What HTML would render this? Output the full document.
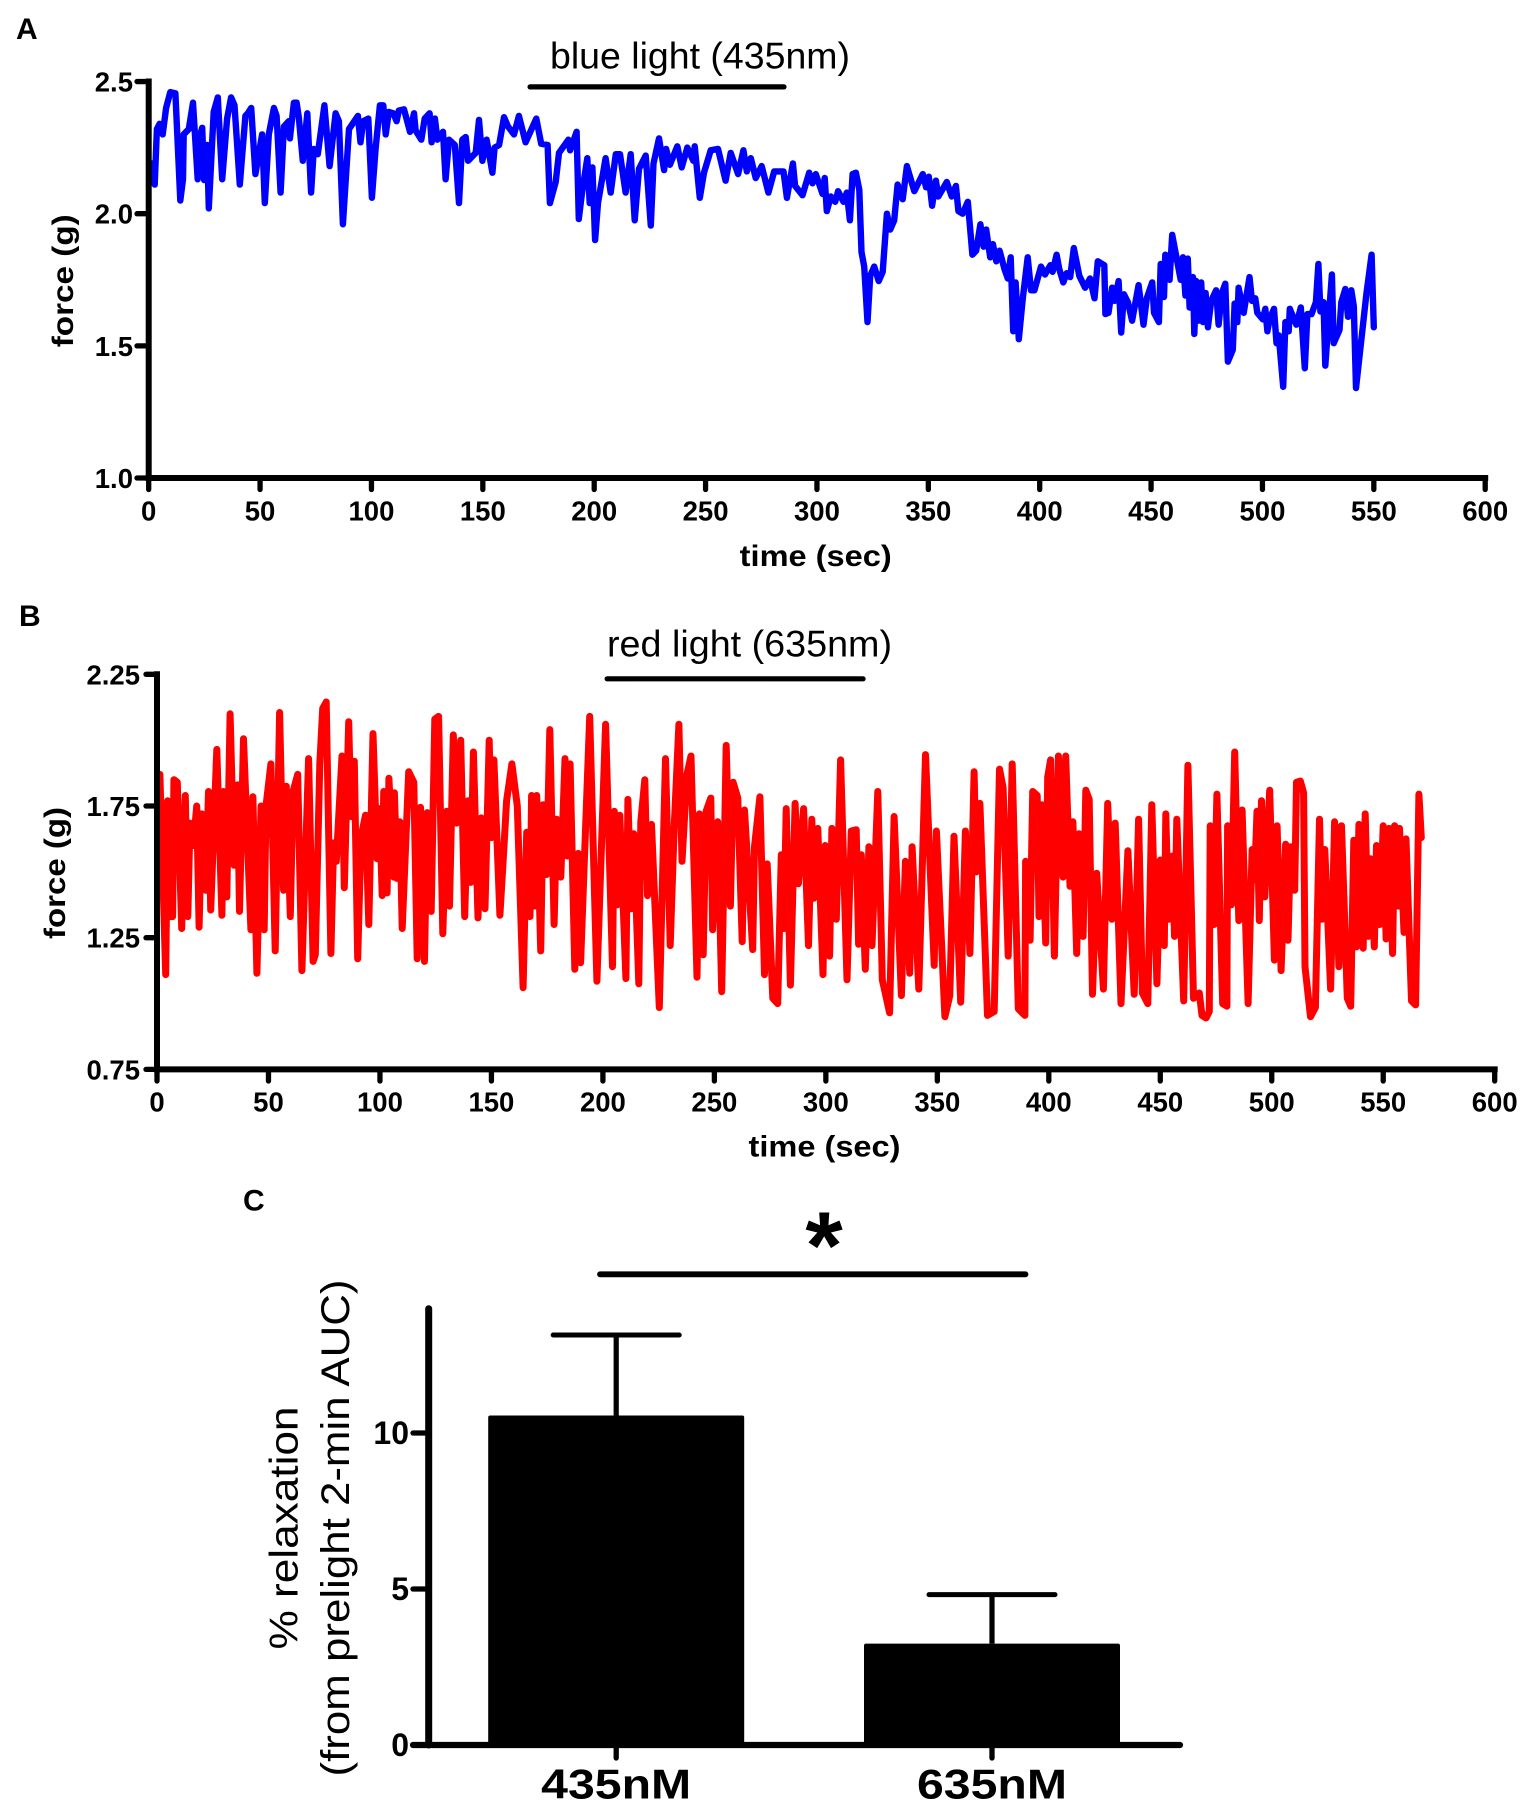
<!DOCTYPE html>
<html lang="en">
<head>
<meta charset="utf-8">
<title>Force traces under blue and red light</title>
<style>
html,body{margin:0;padding:0;background:#fff;}
svg{display:block;}
text{font-family:"Liberation Sans",Arial,sans-serif;fill:#000;}
.tick{font-weight:bold;font-size:27.5px;}
.axt{font-weight:bold;font-size:30px;}
.pl{font-weight:bold;font-size:30px;}
.reg{font-size:37px;}
</style>
</head>
<body>
<svg id="fig" xmlns="http://www.w3.org/2000/svg" width="1525" height="1804" viewBox="0 0 1525 1804">
<rect x="0" y="0" width="1525" height="1804" fill="#fff"/>

<g id="panelA">
<text class="pl" x="16" y="39">A</text>
<text class="reg" x="550" y="68.4" textLength="300" lengthAdjust="spacingAndGlyphs">blue light (435nm)</text>
<text class="axt" x="815.7" y="566" text-anchor="middle" textLength="152" lengthAdjust="spacingAndGlyphs">time (sec)</text>
<text class="axt" transform="translate(73 280.8) rotate(-90)" text-anchor="middle" textLength="133" lengthAdjust="spacingAndGlyphs">force (g)</text>
</g>

<g id="panelB">
<text class="pl" x="19" y="626">B</text>
<text class="reg" x="607" y="656.6" textLength="285" lengthAdjust="spacingAndGlyphs">red light (635nm)</text>
<text class="axt" x="824.5" y="1156.5" text-anchor="middle" textLength="152" lengthAdjust="spacingAndGlyphs">time (sec)</text>
<text class="axt" transform="translate(65 873) rotate(-90)" text-anchor="middle" textLength="132" lengthAdjust="spacingAndGlyphs">force (g)</text>
</g>

<g id="panelC">
<text class="pl" x="243" y="1210.4">C</text>
<text x="824" y="1278.6" text-anchor="middle" font-size="96" font-weight="bold">*</text>
<line x1="600" y1="1274.3" x2="1025.5" y2="1274.3" stroke="#000" stroke-width="5.8" stroke-linecap="round"/>
<text transform="translate(297.5 1528) rotate(-90)" text-anchor="middle" font-size="40" textLength="243" lengthAdjust="spacingAndGlyphs">% relaxation</text>
<text transform="translate(349 1528) rotate(-90)" text-anchor="middle" font-size="40" textLength="497" lengthAdjust="spacingAndGlyphs">(from prelight 2-min AUC)</text>
</g>
</svg>

<script>
var xTickLabelsA = [0,50,100,150,200,250,300,350,400,450,500,550,600];
var yTickLabelsA = ["1.0","1.5","2.0","2.5"];
var xTickLabelsB = [0,50,100,150,200,250,300,350,400,450,500,550,600];
var yTickLabelsB = ["0.75","1.25","1.75","2.25"];
var lightSpanBlue = [171.2,285.2];
var lightSpanRed = [201.9,316.7];

var blueTimes = [
1.5,2.7,3.7,4.9,6.3,7.8,9.7,12,14.2,15.4,
15.7,18,19.9,22,22.8,24,24.9,26.2,27,29.2,
31,33,35.2,37,38.5,40.9,43.4,44.5,46,47.9,
50.9,52.1,53.9,56.2,57.4,59.2,60.7,62.9,63.4,65.2,
66.4,67.4,69.2,71.2,72.9,74.1,75.9,78.9,81.2,83.9,
85.4,87.2,89.9,93.9,95.1,96.3,98.6,100.2,101.9,103.8,
105.3,106.4,107.8,109.8,111.3,112.3,114.6,117.3,119.1,119.8,
122.4,123.9,126.1,127,128.5,129.6,132.1,133.3,134.8,137.4,
139.3,140.8,142.3,143.4,146.8,148.3,149.8,151.7,154.3,155.3,
157.3,159.5,161.3,164,166.2,169.2,174,176.2,179.1,180.1,
182.7,184.2,188.4,189.2,192.1,193.1,194.6,196.9,198,199.2,
200.4,201.7,205.1,207.4,209.7,211.6,214.1,216.4,218.2,220.1,
223.1,225.4,226.6,229.1,231.4,232.3,234,237.3,239.3,241.8,
244.5,245.1,247.4,249.3,252.3,255.6,259,261.3,264.6,267,
268.5,270.3,272.5,275.2,278.2,280.8,285,286.5,289.2,290.2,
293.5,296.5,298,299.5,302.5,303.5,304.4,306.2,308.2,309.5,
311.9,313.4,314.8,316,317.5,319,320,321.2,322.7,323.9,
325.7,327.7,329.5,331.4,332.9,334.7,336.2,338.5,340.4,343.7,
347.5,349,350.2,351.7,353.4,354.5,358.3,360.5,362.4,363.5,
365.4,367.7,369.8,371.5,373.4,374.8,376,377.8,379,380.5,
382,384.2,385.7,387,388.1,389.2,390.6,392.4,394.6,396.1,
397.6,400.6,402.4,404.8,405.8,407.6,408.8,410.6,412.1,413.7,
415.3,417.8,420.4,422.6,424.6,426.1,429,429.5,430.9,432.5,
433.6,435.4,436.6,437.8,439.6,441.5,444.4,446.6,448.1,450.5,
451.3,453.5,454.3,455.8,456.4,458.3,459.5,461.3,463.3,464.3,
465.4,466.5,467.3,468.8,469.4,470.3,471.3,472.5,473.3,474.5,
475.5,477,479.2,480.3,481.8,483.3,484.5,486.7,487.5,488.7,
489.3,491.6,494.2,495.3,496.8,497.7,500.2,501.3,502.2,503.2,
505.2,506.3,507.3,509.3,510.3,511.8,512.3,515.2,517.2,519,
520.2,522,524,525.1,526,527.4,528.2,531.2,532,534.6,
535.4,537.2,538.4,539.9,541,542,546.7,549,550
];
var blueForce = [
2.19,2.11,2.32,2.34,2.30,2.40,2.46,2.455,2.05,2.13,
2.30,2.32,2.42,2.13,2.29,2.325,2.127,2.26,2.02,2.385,
2.44,2.13,2.36,2.44,2.41,2.11,2.37,2.38,2.4,2.15,
2.3,2.04,2.3,2.4,2.37,2.08,2.33,2.35,2.285,2.42,
2.42,2.365,2.2,2.38,2.08,2.245,2.225,2.41,2.18,2.38,
2.35,1.96,2.32,2.37,2.27,2.35,2.36,2.06,2.25,2.41,
2.41,2.30,2.385,2.38,2.35,2.39,2.395,2.31,2.38,2.315,
2.28,2.36,2.38,2.27,2.36,2.28,2.31,2.13,2.28,2.26,
2.04,2.28,2.29,2.2,2.23,2.355,2.2,2.28,2.155,2.25,
2.26,2.365,2.33,2.3,2.37,2.27,2.36,2.265,2.26,2.04,
2.12,2.23,2.28,2.24,2.31,1.98,2.085,2.21,2.04,2.175,
1.9,2.04,2.21,2.08,2.225,2.225,2.08,2.225,1.975,2.17,
2.22,1.955,2.19,2.285,2.165,2.245,2.185,2.255,2.175,2.25,
2.2,2.255,2.06,2.155,2.24,2.245,2.125,2.23,2.15,2.24,
2.16,2.21,2.135,2.18,2.08,2.16,2.16,2.06,2.19,2.105,
2.07,2.155,2.115,2.15,2.075,2.135,2.01,2.065,2.045,2.085,
2.045,2.08,1.975,2.15,2.155,2.09,1.855,1.8,1.59,1.765,
1.8,1.745,1.78,2.0,1.94,1.975,2.11,2.055,2.18,2.085,
2.15,2.1,2.14,2.03,2.125,2.065,2.12,2.065,2.105,2.01,
2.0,2.045,1.845,1.86,1.96,1.875,1.94,1.835,1.885,1.82,
1.86,1.79,1.755,1.835,1.555,1.74,1.525,1.68,1.835,1.71,
1.71,1.8,1.77,1.805,1.78,1.845,1.79,1.74,1.775,1.76,
1.87,1.765,1.72,1.755,1.68,1.82,1.805,1.62,1.625,1.72,
1.67,1.745,1.55,1.695,1.665,1.595,1.73,1.58,1.68,1.74,
1.625,1.59,1.81,1.685,1.845,1.75,1.92,1.84,1.75,1.835,
1.69,1.83,1.645,1.76,1.545,1.745,1.595,1.74,1.59,1.7,
1.57,1.67,1.71,1.58,1.7,1.735,1.44,1.485,1.66,1.59,
1.72,1.625,1.76,1.67,1.68,1.625,1.6,1.64,1.555,1.6,
1.64,1.51,1.54,1.345,1.59,1.555,1.64,1.58,1.645,1.415,
1.62,1.62,1.665,1.81,1.63,1.665,1.425,1.77,1.51,1.56,
1.665,1.715,1.61,1.71,1.65,1.34,1.7,1.845,1.57
];

var redTimes = [
1.3,3.9,4.8,5.8,7,7.6,9.1,11.1,12.7,13.8,
14.8,16.3,17.8,18.9,20.1,21.9,23.1,24.1,26.8,29.1,
29.8,31.3,32.8,34.6,36.1,37,38.8,42.1,43,44.8,
46.7,48.1,48.9,51.1,53,55,56.8,58,59.8,61,
63.1,65,68,70,71,73,74.3,75.9,78,79.2,
80.4,83,84,86,87,88.5,90,91.5,93.5,95,
96.9,98.7,99.8,101,101.7,103.2,104,106.2,106.5,107.7,
108.9,110,112.9,115.2,116.7,118.2,120,121.2,123,124.6,
126.3,128.2,129.9,131.2,132.9,134.4,136.2,138,139.5,140.7,
141.9,144,145.4,147.1,149,150,151.1,153.8,155.3,156.8,
159.2,161.6,164.2,165.8,167.3,168,169.4,170.3,172.1,173.2,
174.7,176.2,178.1,179.3,181.1,183,184,185.3,187.4,188.9,
190,194.1,197.3,201.2,204.3,205.1,206.5,207.6,210.3,211.2,
212.8,213.8,216.1,217,218.8,220,221.8,225.3,228.1,230.2,
232,234.1,235.5,237.7,239.5,242.2,243.3,245,246.3,248.4,
249.2,251.5,253.3,255.3,257.2,258.4,260.5,262.5,263.5,267.2,
268,270.4,272.5,273.7,276.2,278.4,280,281.2,282.2,284.1,
286.2,287.7,290,292.2,293.7,294.6,296.4,298.7,299.7,301.7,
302.7,304.7,306.6,309.5,311.4,313.6,314.7,315.9,317.7,319.3,
320.7,323.3,325.3,328.6,330.6,333.9,335.7,337.6,338.7,341.7,
344.7,348.6,349.6,353.4,355.6,357.5,360.5,362.6,364.6,366.5,
367.5,369.1,372.5,375.5,377.9,379.5,381.8,383.6,386.3,389.3,
389.6,391.6,392.8,394.8,395.6,396.8,398.6,399.5,400.8,402.5,
404.3,406.4,407.6,409.5,410.8,412.5,413.6,415.4,416.6,418.1,
419.6,421.5,424.5,426.4,428.3,429.8,432.4,435.5,438.3,440.3,
442,444.4,446.2,448.5,450,451.8,452.5,453.7,455.5,456.4,
457.4,460.5,462.4,464.9,467.5,468.7,470.5,472,472.4,474.1,
475.4,478,479.9,480.2,481.9,483.4,485.2,486.7,489.4,491.2,
492.3,493.4,494.4,495.4,496.9,499.1,501.2,502.4,504.2,506.2,
507.3,508.4,510.3,511.1,512.8,514.3,514.9,517.4,519.6,521.4,
522.6,523.8,526.4,528.2,530.1,531.3,533.9,535.4,536.8,538,
539.1,541,541.9,543.3,544.3,546,547,548.4,550,551.3,
552.6,554.2,555.1,556.7,557.3,559.3,560.2,562.7,564.5,566,
567.1
];
var redForce = [
1.87,1.11,1.77,1.33,1.33,1.85,1.84,1.285,1.79,1.33,
1.685,1.6,1.75,1.29,1.72,1.43,1.805,1.355,1.965,1.335,
1.805,1.405,2.1,1.525,1.83,1.35,2.005,1.28,1.785,1.115,
1.75,1.28,1.75,1.91,1.2,2.105,1.43,1.825,1.33,1.805,
1.87,1.125,1.93,1.16,1.185,1.91,2.12,2.145,1.19,1.61,
1.54,1.94,1.44,2.07,1.71,1.92,1.17,1.63,1.715,1.3,
2.025,1.55,1.74,1.41,1.805,1.42,1.855,1.48,1.8,1.475,
1.69,1.285,1.88,1.84,1.17,1.745,1.16,1.725,1.35,2.08,
2.09,1.265,1.73,1.37,2.02,1.685,2,1.33,1.77,1.46,
1.955,1.325,1.705,1.36,2,1.63,1.925,1.335,1.545,1.77,
1.91,1.75,1.06,1.65,1.33,1.79,1.37,1.79,1.2,1.755,
1.49,2.04,1.3,1.7,1.48,1.93,1.56,1.91,1.13,1.57,
1.155,2.09,1.085,2.06,1.14,1.73,1.375,1.715,1.095,1.775,
1.36,1.645,1.075,1.69,1.85,1.41,1.68,0.985,1.93,1.22,
1.67,2.06,1.54,1.87,1.94,1.1,1.72,1.185,1.73,1.78,
1.28,1.69,1.045,1.98,1.37,1.84,1.78,1.235,1.735,1.205,
1.595,1.785,1.11,1.53,1.02,1.0,1.565,1.285,1.74,1.07,
1.76,1.455,1.74,1.22,1.7,1.4,1.665,1.11,1.6,1.18,
1.665,1.32,1.925,1.09,1.655,1.66,1.225,1.565,1.13,1.595,
1.22,1.805,1.09,0.965,1.71,1.03,1.54,1.115,1.595,1.055,
1.945,1.145,1.655,0.95,1.03,1.635,1.005,1.655,1.19,1.88,
1.5,1.76,0.955,0.97,1.89,1.82,1.18,1.91,0.98,0.955,
1.54,1.24,1.805,1.79,1.33,1.755,1.23,1.86,1.925,1.18,
1.94,1.48,1.94,1.445,1.69,1.19,1.645,1.255,1.81,1.775,
1.035,1.495,1.055,1.76,1.32,1.685,1.0,1.58,1.035,1.7,
1.04,1.0,1.755,1.075,1.545,1.22,1.72,1.32,1.56,1.255,
1.7,1.01,1.905,1.02,1.04,0.955,0.945,0.97,1.675,1.3,
1.795,1.0,0.99,1.675,1.375,1.955,1.315,1.735,1.0,1.585,
1.47,1.73,1.315,1.77,1.405,1.81,1.165,1.675,1.125,1.605,
1.24,1.595,1.43,1.84,1.845,1.8,1.14,0.95,0.985,1.7,
1.32,1.585,1.055,1.69,1.14,1.675,1.02,0.99,1.62,1.215,
1.68,1.21,1.72,1.255,1.55,1.215,1.6,1.3,1.675,1.245,
1.665,1.19,1.675,1.37,1.665,1.27,1.625,1.01,0.995,1.795,
1.63
];

var barCategories = ["435nM","635nM"];
var barValues = [10.56,3.25];
var barErrors = [2.58,1.57];
var yTickLabelsC = [0,5,10];

var NS = "http://www.w3.org/2000/svg";

function xScaleA(t){ return 148.7 + t * 2.2275; }
function yScaleA(v){ return 478 - (v - 1) * 264.3; }
function xScaleB(t){ return 157 + t * 2.2295; }
function yScaleB(v){ return 1069.4 - (v - 0.75) * 263.4; }
function yScaleC(v){ return 1745 - v * 31.2; }
function xScaleC(i){ return 616.2 + i * 375.8; }

function makeLine(parent, x1, y1, x2, y2, w, cap){
  var el = document.createElementNS(NS, "line");
  el.setAttribute("x1", x1);
  el.setAttribute("y1", y1);
  el.setAttribute("x2", x2);
  el.setAttribute("y2", y2);
  el.setAttribute("stroke", "#000");
  el.setAttribute("stroke-width", w);
  el.setAttribute("stroke-linecap", cap || "round");
  parent.appendChild(el);
  return el;
}
function makeText(parent, str, x, y, anchor, cls){
  var el = document.createElementNS(NS, "text");
  el.setAttribute("x", x);
  el.setAttribute("y", y);
  el.setAttribute("text-anchor", anchor);
  if (cls) el.setAttribute("class", cls);
  el.textContent = str;
  parent.appendChild(el);
  return el;
}
function tracePath(parent, times, values, xs, ys, color, width){
  var d = "";
  for (var i = 0; i < times.length; i++) {
    d += (i ? "L" : "M") + xs(times[i]).toFixed(1) + " " + ys(values[i]).toFixed(1);
  }
  var el = document.createElementNS(NS, "path");
  el.setAttribute("d", d);
  el.setAttribute("fill", "none");
  el.setAttribute("stroke", color);
  el.setAttribute("stroke-width", width);
  el.setAttribute("stroke-linejoin", "round");
  el.setAttribute("stroke-linecap", "round");
  parent.appendChild(el);
  return el;
}

/* Panel A */
var gA = document.getElementById("panelA");
var traceA = tracePath(gA, blueTimes, blueForce, xScaleA, yScaleA, "#0000ff", 6.4);


var axAy = makeLine(gA, xScaleA(0), yScaleA(2.5), xScaleA(0), yScaleA(1), 6, "square");


var axAx = makeLine(gA, xScaleA(0), yScaleA(1), xScaleA(600), yScaleA(1), 6, "square");


xTickLabelsA.forEach(function(t){
  var m = makeLine(gA, xScaleA(t), yScaleA(1), xScaleA(t), 489.5, 5.3);
  
  
  var l = makeText(gA, t, xScaleA(t), 520.5, "middle", "tick");
  
  
});
yTickLabelsA.forEach(function(s){
  var v = parseFloat(s);
  var m = makeLine(gA, 137, yScaleA(v), xScaleA(0), yScaleA(v), 5.3);
  
  
  var l = makeText(gA, s, 133, yScaleA(v) + 10, "end", "tick");
  
  
});
var barA = makeLine(gA, xScaleA(lightSpanBlue[0]), 86.9, xScaleA(lightSpanBlue[1]), 86.9, 5.2);



/* Panel B */
var gB = document.getElementById("panelB");
var traceB = tracePath(gB, redTimes, redForce, xScaleB, yScaleB, "#ff0000", 7);


var axBy = makeLine(gB, xScaleB(0), yScaleB(2.25), xScaleB(0), yScaleB(0.75), 6, "square");


var axBx = makeLine(gB, xScaleB(0), yScaleB(0.75), xScaleB(600), yScaleB(0.75), 6, "square");


xTickLabelsB.forEach(function(t){
  var m = makeLine(gB, xScaleB(t), yScaleB(0.75), xScaleB(t), 1081, 5.3);
  
  
  var l = makeText(gB, t, xScaleB(t), 1111.7, "middle", "tick");
  
  
});
yTickLabelsB.forEach(function(s){
  var v = parseFloat(s);
  var m = makeLine(gB, 146, yScaleB(v), xScaleB(0), yScaleB(v), 5.3);
  
  
  var l = makeText(gB, s, 140, yScaleB(v) + 10, "end", "tick");
  
  
});
var barB = makeLine(gB, xScaleB(lightSpanRed[0]), 678.8, xScaleB(lightSpanRed[1]), 678.8, 5.2);



/* Panel C */
var gC = document.getElementById("panelC");
barCategories.forEach(function(cat, i){
  var top = yScaleC(barValues[i] + barErrors[i]);
  var stem = makeLine(gC, xScaleC(i), top, xScaleC(i), yScaleC(barValues[i]), 5.2, "butt");
  
  
  var cap = makeLine(gC, xScaleC(i) - 63, top, xScaleC(i) + 63, top, 5);
  
  
  var r = document.createElementNS(NS, "rect");
  r.setAttribute("x", xScaleC(i) - 128);
  r.setAttribute("y", yScaleC(barValues[i]));
  r.setAttribute("width", 256);
  r.setAttribute("height", yScaleC(0) - yScaleC(barValues[i]));
  r.setAttribute("rx", 2);
  r.setAttribute("fill", "#000");
  
  
  gC.appendChild(r);
  var m = makeLine(gC, xScaleC(i), yScaleC(0), xScaleC(i), 1758, 5.3);
  
  
  var l = makeText(gC, cat, xScaleC(i), 1798.5, "middle");
  l.setAttribute("font-size", 42);
  l.setAttribute("font-weight", "bold");
  l.setAttribute("textLength", 150);
  l.setAttribute("lengthAdjust", "spacingAndGlyphs");
  
  
});
var axCy = makeLine(gC, 428.7, 1308.7, 428.7, yScaleC(0), 7);


var axCx = makeLine(gC, 413, yScaleC(0), 1180, yScaleC(0), 6.2);


yTickLabelsC.forEach(function(v){
  var m = makeLine(gC, 413, yScaleC(v), 428.7, yScaleC(v), 5.3);
  
  
  var l = makeText(gC, v, 409, yScaleC(v) + 11, "end");
  l.setAttribute("font-size", 32);
  l.setAttribute("font-weight", "bold");
  
  
});
</script>
</body>
</html>
